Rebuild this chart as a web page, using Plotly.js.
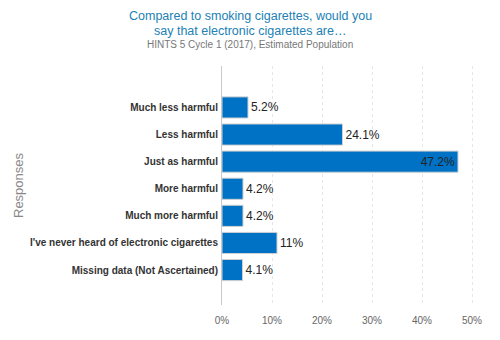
<!DOCTYPE html>
<html>
<head>
<meta charset="utf-8">
<script src="https://cdn.plot.ly/plotly-3.0.1.min.js"></script>
<style>
  html, body { margin: 0; padding: 0; background: #fff; }
  #chart { width: 500px; height: 340px; }
</style>
</head>
<body>
<div id="chart"></div>
<script>
// Survey responses (HINTS 5 Cycle 1, 2017), weighted percentages
const responses = [
  "Much less harmful",
  "Less harmful",
  "Just as harmful",
  "More harmful",
  "Much more harmful",
  "I've never heard of electronic cigarettes",
  "Missing data (Not Ascertained)"
];
const percents = [5.2, 24.1, 47.2, 4.2, 4.2, 11, 4.1];
const percentLabels = ["5.2%", "24.1%", "47.2%", "4.2%", "4.2%", "11%", "4.1%"];
const xTicks = [0, 10, 20, 30, 40, 50];
const xTickLabels = ["0%", "10%", "20%", "30%", "40%", "50%"];

const FONT = "Liberation Sans, Arial, Helvetica, sans-serif";

// plot box in pixels
const W = 500, H = 340;
const M = { l: 222, r: 23, t: 66, b: 35 };
const plotW = W - M.l - M.r, plotH = H - M.t - M.b;
const px = x => (x - M.l) / plotW;          // page x -> paper x
const py = y => (H - M.b - y) / plotH;      // page y -> paper y

// long bars carry their label inside, the rest outside
const positions = percents.map(v => v > 40 ? "inside" : "outside");

const trace = {
  type: "bar",
  orientation: "h",
  y: responses,
  x: percents,
  text: percentLabels,
  textposition: positions,
  insidetextanchor: "end",
  textfont: { family: FONT, size: 12, color: "#222" },
  insidetextfont: { family: FONT, size: 12, color: "#222" },
  outsidetextfont: { family: FONT, size: 12, color: "#222" },
  cliponaxis: false,
  width: 0.78,
  marker: { color: "#0072c5", line: { color: "#d0d0d0", width: 1 } },
  hoverinfo: "none"
};

const layout = {
  width: W,
  height: H,
  margin: M,
  paper_bgcolor: "#fff",
  plot_bgcolor: "#fff",
  showlegend: false,
  font: { family: FONT },
  xaxis: {
    range: [0, 51],
    tickvals: xTicks,
    ticktext: xTickLabels,
    showgrid: true,
    gridcolor: "#e6e6e6",
    griddash: "dot",
    gridwidth: 1,
    zeroline: false,
    showline: false,
    ticks: "",
    ticklabelstandoff: 8,
    tickfont: { family: FONT, size: 10, color: "#666" },
    fixedrange: true
  },
  yaxis: {
    type: "category",
    range: [7.29, -1.53],
    showgrid: false,
    zeroline: false,
    showline: true,
    linecolor: "#c8c8c8",
    linewidth: 1,
    ticks: "",
    ticklabelstandoff: 1,
    tickfont: { family: FONT, size: 10, color: "#333", weight: "bold" },
    fixedrange: true
  },
  annotations: [
    {
      text: "Compared to smoking cigarettes, would you",
      xref: "paper", yref: "paper", x: px(250), y: py(16),
      xanchor: "center", yanchor: "middle", showarrow: false,
      font: { family: FONT, size: 12.5, color: "#2181b5" }
    },
    {
      text: "say that electronic cigarettes are…",
      xref: "paper", yref: "paper", x: px(250), y: py(31),
      xanchor: "center", yanchor: "middle", showarrow: false,
      font: { family: FONT, size: 12.5, color: "#2181b5" }
    },
    {
      text: "HINTS 5 Cycle 1 (2017), Estimated Population",
      xref: "paper", yref: "paper", x: px(250), y: py(44),
      xanchor: "center", yanchor: "middle", showarrow: false,
      font: { family: FONT, size: 10, color: "#777" }
    },
    {
      text: "Responses",
      xref: "paper", yref: "paper", x: px(18), y: py(185),
      xanchor: "center", yanchor: "middle", textangle: -90, showarrow: false,
      font: { family: FONT, size: 13, color: "#888" }
    }
  ]
};

Plotly.newPlot("chart", [trace], layout, { displayModeBar: false, staticPlot: true });
</script>
</body>
</html>
